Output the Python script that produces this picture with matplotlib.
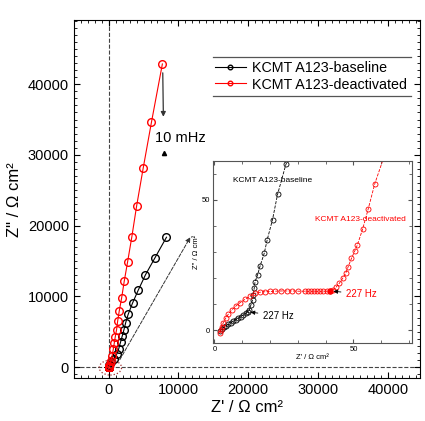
import matplotlib
matplotlib.use('Agg')
import matplotlib.pyplot as plt
from matplotlib.ticker import MultipleLocator
from matplotlib.lines import Line2D
from matplotlib.patches import Ellipse

plt.rcParams['font.family'] = ['Liberation Sans', 'DejaVu Sans']

# low-frequency range (inset) + full range, Z' and Z'' in Ohm cm2
base_re = [2.0, 2.6, 3.3, 4.1, 5.0, 5.9, 6.8, 7.7, 8.6, 9.5, 10.4, 11.2, 11.9, 12.5,
           13.1, 13.7, 14.0, 14.3, 14.6, 15.5, 16.4, 17.9, 19.0, 20.9, 22.7, 25.7,
           120, 400, 800, 1150, 1450, 1700, 1950, 2200, 2450, 2800, 3430, 4230,
           5280, 6610, 8290]
base_im = [-0.5, 0.3, 1.0, 1.6, 2.2, 2.8, 3.4, 4.0, 4.6, 5.2, 5.8, 6.4, 7.0, 7.6,
           9.6, 11.5, 13.4, 16.0, 18.5, 21.1, 24.5, 29.4, 34.7, 42.4, 52.0, 63.5,
           300, 700, 1200, 1800, 2600, 3500, 4400, 5300, 6300, 7460, 9060, 10850,
           13050, 15400, 18360]

deact_re = [2.0, 2.2, 2.6, 3.2, 4.0, 5.0, 6.2, 7.7, 9.2, 11.0, 12.8, 14.6, 16.4,
            18.2, 20.0, 21.8, 24.0, 26.0, 28.0, 30.1, 32.5, 33.6, 34.8, 35.9, 37.0,
            38.1, 39.2, 40.4, 41.5, 42.5, 43.7, 44.9, 46.1, 47.2, 48.1, 49.3, 50.5,
            51.4, 53.3, 55.3, 57.7, 61.5,
            100, 200, 330, 500, 660, 800, 950, 1140, 1290, 1520, 1860, 2230, 2710,
            3330, 4000, 4950, 6140, 7700]
deact_im = [-1.0, 0.0, 1.3, 2.9, 4.5, 6.1, 7.7, 9.2, 10.5, 11.8, 13.0, 14.1, 14.5,
            14.7, 14.8, 14.9, 15.0, 15.0, 15.0, 14.9, 14.9, 14.8, 14.8, 14.8, 14.8,
            14.8, 14.9, 14.9, 15.1, 15.3, 16.4, 17.9, 19.8, 21.7, 24.3, 27.5, 30.4,
            32.6, 38.7, 46.4, 56.2, 68.0,
            150, 400, 900, 1600, 2490, 3340, 4270, 5300, 6480, 7930, 9760, 12110,
            14830, 18450, 22720, 28130, 34650, 42860]

labels = ['KCMT A123-baseline', 'KCMT A123-deactivated']
colors = ['black', 'red']
freq_label = '227 Hz'

fig = plt.figure(figsize=(4.25, 4.21), dpi=100)

ax = fig.add_axes([0.174, 0.102, 0.814, 0.850])
ax.axvline(0, color='#444444', ls='--', lw=0.8, zorder=1)
ax.axhline(0, color='#444444', ls='--', lw=0.8, zorder=1)
for zre, zim, c, lab in [(base_re, base_im, colors[0], labels[0]),
                         (deact_re, deact_im, colors[1], labels[1])]:
    ax.plot(zre, zim, '-o', color=c, lw=0.8, ms=5.5, mfc='none', mew=1.0,
            label=lab, zorder=3)

ax.set_xlim(-4970, 44600)
ax.set_ylim(-1555, 49050)
ax.xaxis.set_major_locator(MultipleLocator(10000))
ax.xaxis.set_minor_locator(MultipleLocator(1000))
ax.yaxis.set_major_locator(MultipleLocator(10000))
ax.yaxis.set_minor_locator(MultipleLocator(1000))
ax.tick_params(which='both', direction='in', top=True, right=True, labelsize=10.5)
ax.tick_params(which='major', length=4)
ax.tick_params(which='minor', length=2)
ax.set_xlabel("Z' / Ω cm²", fontsize=12, labelpad=2)
ax.set_ylabel('Z" / Ω cm²', fontsize=12, labelpad=4)

# legend with only top and bottom rules
leg = ax.legend(loc='upper left', bbox_to_anchor=(0.39, 0.903), frameon=False,
                fontsize=10.3, handlelength=2.2, handletextpad=0.4,
                labelspacing=0.2, markerscale=0.6, borderaxespad=0)
for yy in (0.896, 0.789):
    ax.add_line(Line2D([0.401, 0.973], [yy, yy], transform=ax.transAxes,
                       color='#555555', lw=0.9))

ax.annotate('', xy=(7850, 35000), xytext=(7750, 42000),
            arrowprops=dict(arrowstyle='-|>', color='#333333', lw=0.9,
                            mutation_scale=7))
ax.text(6600, 32400, '10 mHz', fontsize=10.5, va='center', ha='left')
ax.plot([7900], [30300], marker='^', color='black', ms=3)

ax.add_patch(Ellipse((250, -80), 3200, 2100, fill=False, ls=':', lw=0.9,
                     edgecolor='#a03030', zorder=4))
ax.annotate('', xy=(11900, 18700), xytext=(1400, 700),
            arrowprops=dict(arrowstyle='-|>', color='#333333', lw=0.7,
                            ls='--', mutation_scale=7))

# inset
axin = fig.add_axes([0.501, 0.185, 0.468, 0.433])
for zre, zim, c in [(base_re, base_im, colors[0]), (deact_re, deact_im, colors[1])]:
    axin.plot(zre, zim, '--o', color=c, lw=0.6, ms=3.6, mfc='none', mew=0.6)
axin.plot([41.5], [15.1], 'o', color='red', ms=3.6)
axin.set_xlim(-0.54, 71)
axin.set_ylim(-5, 64.9)
axin.xaxis.set_major_locator(MultipleLocator(50))
axin.xaxis.set_minor_locator(MultipleLocator(10))
axin.yaxis.set_major_locator(MultipleLocator(50))
axin.yaxis.set_minor_locator(MultipleLocator(10))
axin.tick_params(which='both', direction='in', top=True, right=True, labelsize=5.5,
                 pad=2, color='#555555')
axin.tick_params(which='major', length=3)
axin.tick_params(which='minor', length=2)
for sp in axin.spines.values():
    sp.set_color('#555555')
    sp.set_linewidth(0.8)
axin.set_xlabel("Z' / Ω cm²", fontsize=5.5, labelpad=1)
axin.set_ylabel('Z" / Ω cm²', fontsize=5.5, labelpad=1)

axin.text(6.8, 57.5, labels[0], fontsize=6, color='black', va='center')
axin.text(36.2, 42.5, labels[1], fontsize=6, color='red', va='center')
axin.annotate(freq_label, xy=(12.0, 7.0), xytext=(17.6, 5.5), fontsize=7,
              color='black', va='center',
              arrowprops=dict(arrowstyle='-|>', color='black', lw=0.6,
                              mutation_scale=6))
axin.annotate(freq_label, xy=(41.8, 15.0), xytext=(47.5, 13.8), fontsize=7,
              color='red', va='center',
              arrowprops=dict(arrowstyle='-|>', color='black', lw=0.6,
                              mutation_scale=6))

plt.savefig('out.png', dpi=100)
